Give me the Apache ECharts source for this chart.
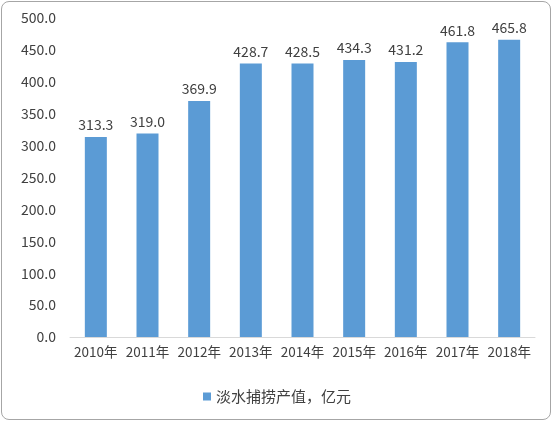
<!DOCTYPE html>
<html><head><meta charset="utf-8">
<script src="https://cdn.jsdelivr.net/npm/echarts@6/dist/echarts.min.js"></script>
<style>
body{margin:0;background:#fff}
#wrap{position:absolute;left:1px;top:1px;width:550px;height:419px;border:1px solid #a6a6a6;border-radius:8px;box-sizing:border-box}
#chart{position:absolute;left:0;top:0;width:554px;height:423px}
</style></head>
<body>
<div id="wrap"></div>
<div id="chart"></div>
<script>
const years = ["2010年","2011年","2012年","2013年","2014年","2015年","2016年","2017年","2018年"];
const values = [313.3, 319.0, 369.9, 428.7, 428.5, 434.3, 431.2, 461.8, 465.8];
const seriesName = "淡水捕捞产值，亿元";

const chart = echarts.init(document.getElementById('chart'), null, {renderer: 'canvas'});
chart.setOption({
    animation: false,
    textStyle: {fontFamily: "Noto Sans CJK SC"},
    grid: {left: 70, right: 19, top: 18, bottom: 86},
    legend: {
        data: [seriesName], bottom: 14, left: 'center',
        itemWidth: 8, itemHeight: 8, icon: 'rect',
        textStyle: {fontSize: 15, color: '#404040'}
    },
    xAxis: {
        type: 'category', data: years,
        axisLine: {lineStyle: {color: '#d9d9d9'}},
        axisTick: {show: false},
        axisLabel: {color: '#404040', fontSize: 13.5, interval: 0, margin: 8}
    },
    yAxis: {
        type: 'value', min: 0, max: 500, interval: 50,
        splitLine: {show: false},
        axisLine: {show: false},
        axisLabel: {color: '#404040', fontSize: 14, margin: 14,
            formatter: v => v.toFixed(1)}
    },
    series: [{
        name: seriesName, type: 'bar', data: values, barWidth: 22,
        itemStyle: {color: '#5b9bd5'},
        label: {show: true, position: 'top', color: '#404040', fontSize: 14,
            formatter: p => p.value.toFixed(1)}
    }]
});
</script>
</body></html>
